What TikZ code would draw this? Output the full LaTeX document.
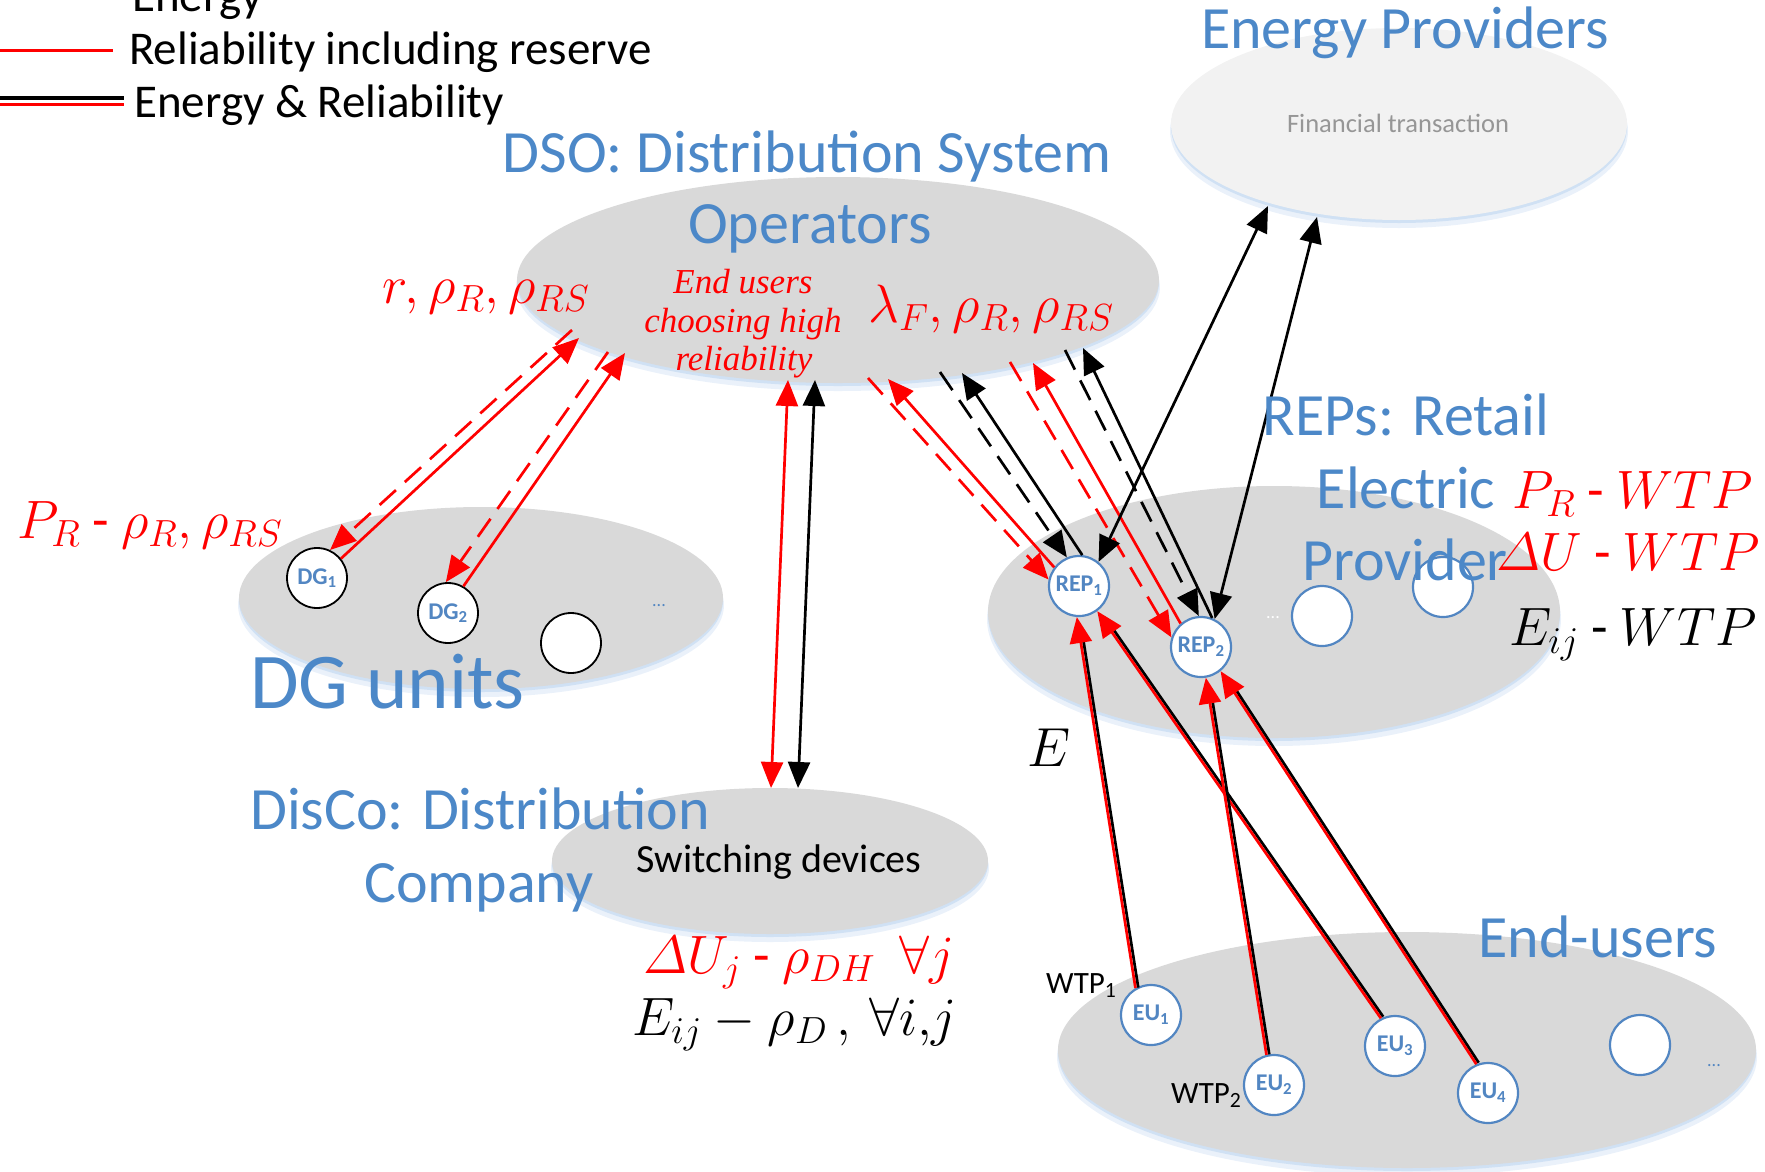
\RequirePackage{fix-cm}
\documentclass[tikz,border=0pt]{standalone}
\usepackage{amsmath}
\usepackage{fontspec}
\setmainfont{Carlito}
\newfontfamily\noteserif{Liberation Serif}
\usetikzlibrary{arrows.meta,shapes.geometric}

\definecolor{ttlblue}{RGB}{76,136,200}
\definecolor{cirblue}{RGB}{82,134,194}
\definecolor{lgray}{RGB}{217,217,217}
\definecolor{xlgray}{RGB}{242,242,242}
\definecolor{glow}{RGB}{208,225,244}
\definecolor{txtgray}{RGB}{150,150,150}

\begin{document}
\begin{tikzpicture}[x=1pt,y=-1pt,
  group/.style={ellipse, fill=lgray, inner sep=0pt, outer sep=0pt},
  unit/.style={circle, draw=cirblue, line width=2.2pt, fill=white, minimum size=60pt,
               inner sep=0pt, text=cirblue, font=\bfseries\fontsize{24}{24}\selectfont},
  dgunit/.style={unit, draw=black, line width=1.8pt},
  title/.style={text=ttlblue, font=\fontsize{60}{72}\selectfont, inner sep=0pt},
  legtext/.style={font=\fontsize{47}{56}\selectfont, inner sep=0pt},
  lbl/.style={font=\fontsize{54}{62}\selectfont, inner sep=0pt},
  note/.style={text=red, font=\noteserif\itshape\fontsize{35}{40}\selectfont, inner sep=0pt},
  rline/.style={draw=red, line width=2.7pt},
  kline/.style={draw=black, line width=2.7pt},
  dashedline/.style={dash pattern=on 22pt off 12pt},
  headend/.style={-{Triangle[length=26pt,width=22pt]}},
  headboth/.style={{Triangle[length=26pt,width=22pt]}-{Triangle[length=26pt,width=22pt]}},
]
\useasboundingbox (0,0) rectangle (1765,1171);
\clip (0,0) rectangle (1765,1171);

% ---------- soft blue glow under the groups ----------
\fill[glow!45!white] (1399,131) ellipse [x radius=229pt, y radius=97pt];
\fill[glow] (1399,127) ellipse [x radius=228pt, y radius=96pt];
\fill[glow!45!white] (838,287) ellipse [x radius=322pt, y radius=104pt];
\fill[glow] (838,283) ellipse [x radius=321pt, y radius=103pt];
\fill[glow!45!white] (481,605) ellipse [x radius=243pt, y radius=92pt];
\fill[glow] (481,601) ellipse [x radius=242pt, y radius=91pt];
\fill[glow!45!white] (1274,619) ellipse [x radius=287pt, y radius=127pt];
\fill[glow] (1274,615) ellipse [x radius=286pt, y radius=126pt];
\fill[glow!45!white] (770,868) ellipse [x radius=219pt, y radius=74pt];
\fill[glow] (770,864) ellipse [x radius=218pt, y radius=73pt];
\fill[glow!45!white] (1407,1057) ellipse [x radius=350pt, y radius=119pt];
\fill[glow] (1407,1053) ellipse [x radius=349pt, y radius=118pt];

% ---------- groups ----------
\node[group, fill=xlgray, minimum width=456pt, minimum height=192pt] (ep) at (1399,124) {};
\node[group, minimum width=642pt, minimum height=206pt] (dso) at (838,280) {};
\node[group, minimum width=484pt, minimum height=182pt] (dgs) at (481,598) {};
\node[group, minimum width=572pt, minimum height=252pt] (reps) at (1274,612) {};
\node[group, minimum width=436pt, minimum height=146pt] (disco) at (770,861) {};
\node[group, minimum width=698pt, minimum height=236pt] (eus) at (1407,1050) {};

% ---------- members ----------
\node[dgunit] (dg1) at (317,578) {DG\textsubscript{1}};
\node[dgunit] (dg2) at (448,613) {DG\textsubscript{2}};
\node[dgunit] (dg3) at (571,643) {};
\node[text=cirblue, font=\fontsize{18}{18}\selectfont] (dgdots) at (659,606) {...};

\node[unit] (rep1) at (1079,586) {REP\textsubscript{1}};
\node[unit] (rep2) at (1201,647) {REP\textsubscript{2}};
\node[unit] (rep3) at (1322,616) {};
\node[unit] (rep4) at (1443,587) {};
\node[text=white, font=\fontsize{18}{18}\selectfont] (repdots) at (1273,618) {...};

\node[unit] (eu1) at (1151,1015) {EU\textsubscript{1}};
\node[unit] (eu2) at (1274,1085) {EU\textsubscript{2}};
\node[unit] (eu3) at (1395,1046) {EU\textsubscript{3}};
\node[unit] (eu4) at (1488,1093) {EU\textsubscript{4}};
\node[unit] (eu5) at (1640,1045) {};
\node[text=cirblue, font=\fontsize{18}{18}\selectfont] (eudots) at (1714,1066) {...};

% ---------- legend ----------
\coordinate (lgA) at (0,50);   \coordinate (lgB) at (113,50);
\coordinate (lgC) at (0,98);   \coordinate (lgD) at (124,98);
\coordinate (lgE) at (0,104.5);\coordinate (lgF) at (124,104.5);
\draw[rline, line width=3pt] (lgA) -- (lgB);
\draw[kline, line width=3.5pt] (lgC) -- (lgD);
\draw[rline, line width=3.5pt] (lgE) -- (lgF);
\node[legtext, anchor=base west] (lg1) at (132,11) {Energy};
\node[legtext, anchor=base west] (lg2) at (129,64) {Reliability including reserve};
\node[legtext, anchor=base west] (lg3) at (134,117) {Energy \& Reliability};

% ---------- DSO <-> DG units ----------
\coordinate (g1) at (572,330);
\coordinate (g2) at (579,338);
\coordinate (g3) at (608,352);
\coordinate (g4) at (625,353);
\draw[rline, dashedline, headend] (g1) -- (dg1.65);
\draw[rline, headend] (dg1.39) -- (g2);
\draw[rline, dashedline, headend] (g3) -- (dg2.94);
\draw[rline, headend] (dg2.60) -- (g4);

% ---------- DSO <-> DisCo ----------
\coordinate (c1) at (788,380);
\coordinate (c2) at (771,788);
\coordinate (c3) at (815,380);
\coordinate (c4) at (798,788);
\draw[rline, headboth] (c1) -- (c2);
\draw[kline, headboth] (c3) -- (c4);

% ---------- DSO <-> REPs ----------
\coordinate (dr1) at (868,378);
\coordinate (dr2) at (888,379);
\coordinate (dk1) at (940,372);
\coordinate (dk2) at (962,373);
\coordinate (dr3) at (1010,362);
\coordinate (dr4) at (1033,363);
\coordinate (dk3) at (1065,350);
\coordinate (dk4) at (1083,348);
\draw[rline, dashedline, headend] (dr1) -- (rep1.168);
\draw[rline, headend] (rep1.143) -- (dr2);
\draw[kline, dashedline, headend] (dk1) -- (rep1.113);
\draw[kline, headend] (rep1.84) -- (dk2);
\draw[rline, dashedline, headend] (dr3) -- (rep2.162);
\draw[rline, headend] (rep2.131) -- (dr4);
\draw[kline, dashedline, headend] (dk3) -- (rep2.94);
\draw[kline, headend] (rep2.69) -- (dk4);

% ---------- REPs <-> Energy Providers ----------
\coordinate (e1) at (1268,206);
\coordinate (e2) at (1317,217);
\draw[kline, headboth] (rep1.51) -- (e1);
\draw[kline, headboth] (rep2.64) -- (e2);

% ---------- End-users -> REPs (energy & reliability) ----------
\draw[kline, shorten >=22pt, transform canvas={shift={(2.8,-0.5)}}] (eu1.120) -- (rep1.266);
\draw[rline, headend] (eu1.120) -- (rep1.266);
\draw[kline, shorten >=22pt, transform canvas={shift={(2.3,-1.6)}}] (eu3.117) -- (rep1.306);
\draw[rline, headend] (eu3.117) -- (rep1.306);
\draw[kline, shorten >=22pt, transform canvas={shift={(2.8,-0.5)}}] (eu2.104) -- (rep2.279);
\draw[rline, headend] (eu2.104) -- (rep2.279);
\draw[kline, shorten >=22pt, transform canvas={shift={(2.3,-1.5)}}] (eu4.112) -- (rep2.309);
\draw[rline, headend] (eu4.112) -- (rep2.309);

% ---------- titles ----------
\node[title, anchor=base] (ept) at (1405,48) {Energy Providers};
\node[anchor=base, inner sep=0pt, text=txtgray, font=\fontsize{26.5}{30}\selectfont] (fin) at (1398,132) {Financial transaction};
\node[title, anchor=base] (dsot1) at (807,172) {DSO: Distribution System};
\node[title, anchor=base] (dsot2) at (810,243) {Operators};
\node[title, anchor=base west, font=\fontsize{79}{90}\selectfont] (dgt) at (250,708) {DG units};
\node[title, anchor=base west] (dct1) at (250,829) {DisCo: Distribution};
\node[title, anchor=base west] (dct2) at (364,902) {Company};
\node[anchor=base, inner sep=0pt, font=\fontsize{40}{48}\selectfont] (sw) at (779,872) {Switching devices};
\node[title, anchor=base] (rept1) at (1406,435) {REPs: Retail};
\node[title, anchor=base] (rept2) at (1406,508) {Electric};
\node[title, anchor=base] (rept3) at (1405,580) {Provider};
\node[title, anchor=base] (eut) at (1598,957) {End-users};

% ---------- signals ----------
\node[note, anchor=base] (n1) at (743,293) {End users};
\node[note, anchor=base] (n2) at (743,332) {choosing high};
\node[note, anchor=base] (n3) at (744,370) {reliability};
\node[lbl, text=red, anchor=base west] (s1) at (382,303) {$r, \rho_R, \rho_{RS}$};
\node[lbl, text=red, anchor=base west] (s2) at (868,322) {$\lambda_F, \rho_R, \rho_{RS}$};
\node[lbl, text=red, anchor=base west] (s3) at (17,538) {$P_R$ - $\rho_R, \rho_{RS}$};
\node[lbl, text=red, anchor=base west] (s4) at (1512,508) {$P_R$ - $WTP$};
\node[lbl, text=red, anchor=base west] (s5) at (1496,570) {$\varDelta U$ - $WTP$};
\node[lbl, anchor=base west] (s6) at (1509,645) {$E_{ij}$ - $WTP$};
\node[lbl, text=red, anchor=base west] (s7) at (643,973) {$\varDelta U_j$ - $\rho_{DH}$\ \ $\forall j$};
\node[lbl, anchor=base west] (s8) at (632,1035) {$E_{ij}-\rho_D\,,\,\forall i{,}j$};
\node[lbl, anchor=base west, font=\fontsize{55}{62}\selectfont] (elab) at (1027,766) {$E$};
\node[anchor=base west, inner sep=0pt, font=\fontsize{31}{31}\selectfont] (wtp1) at (1046,993) {WTP\textsubscript{1}};
\node[anchor=base west, inner sep=0pt, font=\fontsize{31}{31}\selectfont] (wtp2) at (1171,1103) {WTP\textsubscript{2}};
\end{tikzpicture}
\end{document}
